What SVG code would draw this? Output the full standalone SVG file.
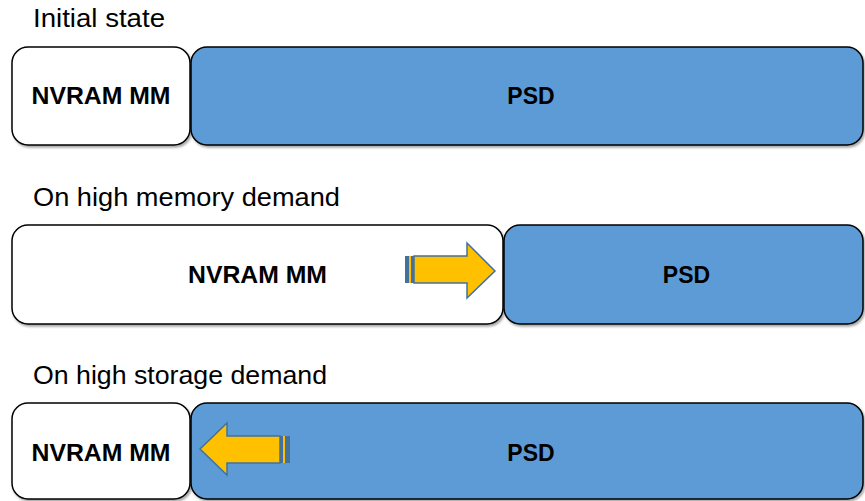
<svg xmlns="http://www.w3.org/2000/svg" width="865" height="501" viewBox="0 0 865 501">
<defs>
<filter id="sh" x="-5%" y="-5%" width="110%" height="115%">
<feDropShadow dx="1.5" dy="2" stdDeviation="1.2" flood-color="#000" flood-opacity="0.35"/>
</filter>
<style>
.title{font-family:"Liberation Sans",Arial,sans-serif;font-size:25px;fill:#000}
.lbl{font-family:"Liberation Sans",Arial,sans-serif;font-size:23px;font-weight:bold;fill:#000;text-anchor:middle}
.mm{fill:#fff;stroke:#000;stroke-width:1.5;filter:url(#sh)}
.psd{fill:#5B9BD5;stroke:#000;stroke-width:1.5;filter:url(#sh)}
.arr{fill:#FFC000;stroke:#41719C;stroke-width:1.5}
.stripe{fill:#41719C}
</style>
</defs>
<rect width="865" height="501" fill="#fff"/>
<text class="title" x="33" y="27" textLength="132" lengthAdjust="spacingAndGlyphs">Initial state</text>
<text class="title" x="33" y="206" textLength="307" lengthAdjust="spacingAndGlyphs">On high memory demand</text>
<text class="title" x="33" y="384" textLength="294" lengthAdjust="spacingAndGlyphs">On high storage demand</text>

<g id="row1-nvram">
<rect class="mm" x="12" y="47" width="178" height="98" rx="16"/>
<text class="lbl" x="101" y="104" textLength="139" lengthAdjust="spacingAndGlyphs">NVRAM MM</text>
</g>
<g id="row1-psd">
<rect class="psd" x="191" y="47" width="672" height="98" rx="16"/>
<text class="lbl" x="531" y="104">PSD</text>
</g>

<g id="row2-nvram">
<rect class="mm" x="12" y="225" width="491" height="99" rx="16"/>
<text class="lbl" x="257.5" y="283" textLength="139" lengthAdjust="spacingAndGlyphs">NVRAM MM</text>
</g>
<g id="row2-psd">
<rect class="psd" x="504" y="225" width="359" height="99" rx="16"/>
<text class="lbl" x="686.5" y="283">PSD</text>
</g>

<g id="row3-nvram">
<rect class="mm" x="12" y="403" width="178" height="96" rx="16"/>
<text class="lbl" x="101" y="461" textLength="139" lengthAdjust="spacingAndGlyphs">NVRAM MM</text>
</g>
<g id="row3-psd">
<rect class="psd" x="191" y="403" width="672" height="96" rx="16"/>
<text class="lbl" x="531" y="461">PSD</text>
</g>

<g id="connectors">
<g id="arrow-right">
<polygon class="arr" points="414,256 467,256 467,243 495,271 467,298 467,283 414,283"/>
<rect class="stripe" x="405" y="256" width="4" height="27"/>
<rect fill="#FFC000" x="409" y="256" width="2" height="27"/>
<rect class="stripe" x="411" y="256" width="3" height="27"/>
</g>
<g id="arrow-left">
<polygon class="arr" points="280,436 227,436 227,423 200,449 227,475 227,463 280,463"/>
<rect class="stripe" x="280" y="436" width="3" height="27"/>
<rect fill="#FFC000" x="283" y="436" width="2" height="27"/>
<rect class="stripe" x="285" y="436" width="5" height="27"/>
</g>
</g>
</svg>
